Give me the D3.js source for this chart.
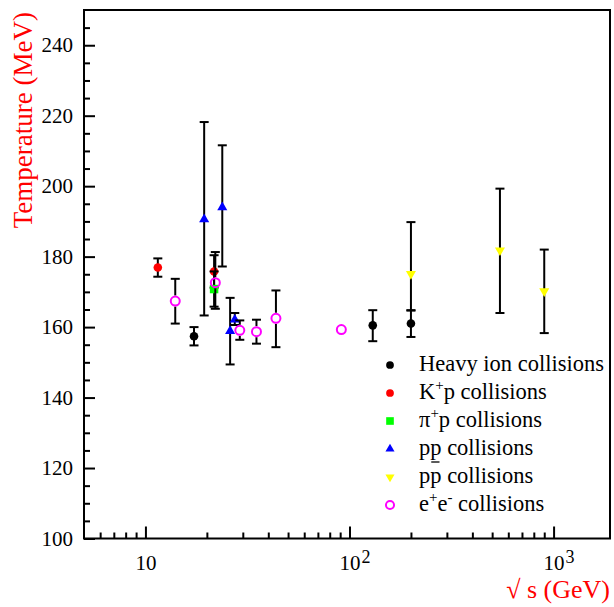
<!DOCTYPE html>
<html>
<head>
<meta charset="utf-8">
<script src="https://cdn.jsdelivr.net/npm/d3@7"></script>
<style>
  html, body { margin: 0; padding: 0; background: #fff; }
  svg { display: block; font-family: "Liberation Serif", "Times New Roman", serif; }
</style>
</head>
<body>
<svg width="614" height="607"></svg>
<script>
// sqrt(s) in GeV, temperature in MeV, errors given as (down, up)
const heavyE = [17.3, 130, 200];
const heavyT = [157.4, 160.5, 161.0];
const heavyLo = [2.6, 4.5, 3.8];
const heavyHi = [2.6, 4.3, 3.8];

const kpE = [11.5, 21.7];
const kpT = [176.9, 175.8];
const kpLo = [2.6, 4.6];
const kpHi = [2.6, 4.6];

const pipE = [21.7];
const pipT = [170.8];
const pipLo = [5.0];
const pipHi = [5.0];

const ppE = [19.4, 23.8, 26.0, 27.4];
const ppT = [190.6, 194.0, 158.9, 162.1];
const ppLo = [27.3, 16.8, 9.5, 1.5];
const ppHi = [27.6, 17.6, 9.4, 1.9];

const ppbarE = [200, 546, 900];
const ppbarT = [175.1, 181.8, 170.2];
const ppbarLo = [10.4, 17.8, 11.9];
const ppbarHi = [14.7, 17.5, 11.8];

const eeE = [14, 22, 29, 35, 43.6, 91.2];
const eeT = [167.4, 172.6, 159.1, 158.7, 162.5, 159.3];
const eeLo = [6.4, 7.4, 2.7, 3.4, 8.2, 0];
const eeHi = [6.3, 8.7, 2.8, 3.4, 7.9, 0];

const yMajor = [100, 120, 140, 160, 180, 200, 220, 240];
const xMajor = [10, 100, 1000];
const xExponent = ['', '2', '3'];

const legendLabels = [
    [['Heavy ion collisions']],
    [['K'], ['+', 'sup'], ['p collisions']],
    [['\u03c0'], ['+', 'sup'], ['p collisions']],
    [['pp collisions']],
    [['pp collisions']],
    [['e'], ['+', 'sup'], ['e'], ['-', 'sup'], [' collisions']]
];

const FONT = '"Liberation Serif", "Times New Roman", serif';

const svg = d3.select('svg');
const margin = { top: 10, right: 4, bottom: 68.5, left: 84 };
const width = +svg.attr('width');
const height = +svg.attr('height');

const x = d3.scaleLog()
    .domain([5, 1890])
    .range([margin.left, width - margin.right]);

const y = d3.scaleLinear()
    .domain([100, 250])
    .range([height - margin.bottom, margin.top]);

const pack = (E, T, lo, hi) => E.map((e, i) => ({ e: e, t: T[i], lo: lo[i], hi: hi[i] }));

const series = [
    { data: pack(heavyE, heavyT, heavyLo, heavyHi), color: 'black', shape: 'circle' },
    { data: pack(kpE, kpT, kpLo, kpHi), color: '#ff0000', shape: 'circle' },
    { data: pack(pipE, pipT, pipLo, pipHi), color: '#00ff00', shape: 'square' },
    { data: pack(ppE, ppT, ppLo, ppHi), color: '#0000ff', shape: 'up' },
    { data: pack(ppbarE, ppbarT, ppbarLo, ppbarHi), color: '#ffff00', shape: 'down' },
    { data: pack(eeE, eeT, eeLo, eeHi), color: '#ff00ff', shape: 'open' }
];

// ---- axes ----
const yMinor = d3.range(105, 250, 5).filter(v => v % 20 !== 0);
const xMinor = [6, 7, 8, 9, 20, 30, 40, 50, 60, 70, 80, 90, 200, 300, 400, 500, 600, 700, 800, 900];

const styleAxis = g => {
    g.attr('font-family', FONT);
    g.select('.domain').remove();
    g.selectAll('.tick line').attr('stroke', 'black').attr('stroke-width', 2);
    g.selectAll('text').attr('fill', 'black').attr('font-family', FONT).attr('font-size', 21);
};

svg.append('g')
    .attr('transform', `translate(${margin.left},0)`)
    .call(d3.axisLeft(y).tickValues(yMinor).tickSize(-6).tickSizeOuter(0).tickFormat(''))
    .call(styleAxis);

svg.append('g')
    .attr('transform', `translate(${margin.left},0)`)
    .call(d3.axisLeft(y).tickValues(yMajor).tickSize(-11).tickSizeOuter(0).tickPadding(11))
    .call(styleAxis);

svg.append('g')
    .attr('transform', `translate(0,${y(100)})`)
    .call(d3.axisBottom(x).tickValues(xMinor).tickSize(-6).tickSizeOuter(0).tickFormat(''))
    .call(styleAxis);

const gx = svg.append('g')
    .attr('transform', `translate(0,${y(100)})`)
    .call(d3.axisBottom(x).tickValues(xMajor).tickSize(-12).tickSizeOuter(0).tickPadding(17).tickFormat(() => ''))
    .call(styleAxis);

// "10" centred on the tick, exponent hanging to the right
gx.selectAll('.tick text').each(function (d) {
    const t = d3.select(this).attr('text-anchor', 'start');
    const base = t.append('tspan').text('10');
    const w = base.node().getComputedTextLength();
    t.attr('x', -w / 2);
    const ex = xExponent[xMajor.indexOf(d)];
    if (ex) {
        t.append('tspan').attr('dx', 1).attr('dy', -7).attr('font-size', 18).text(ex);
    }
});

// frame
svg.append('rect')
    .attr('x', margin.left)
    .attr('y', margin.top)
    .attr('width', width - margin.left - margin.right)
    .attr('height', height - margin.top - margin.bottom)
    .attr('fill', 'none')
    .attr('stroke', 'black')
    .attr('stroke-width', 2);

// axis titles
svg.append('text')
    .attr('transform', `translate(32,12) rotate(-90)`)
    .attr('text-anchor', 'end')
    .attr('fill', '#ff0000')
    .attr('font-family', FONT)
    .attr('font-size', 27)
    .text('Temperature (MeV)');

svg.append('text')
    .attr('x', 610)
    .attr('y', 598)
    .attr('text-anchor', 'end')
    .attr('fill', '#ff0000')
    .attr('font-family', FONT)
    .attr('font-size', 26)
    .text('\u221a s (GeV)');

// ---- markers ----
const drawMarker = (g, shape, color, cx, cy, scale) => {
    const s = scale || 1;
    if (shape === 'circle') {
        g.append('circle').attr('cx', cx).attr('cy', cy).attr('r', 4.3 * s).attr('fill', color);
    } else if (shape === 'open') {
        g.append('circle').attr('cx', cx).attr('cy', cy).attr('r', 4.5 * s)
            .attr('fill', 'none').attr('stroke', color).attr('stroke-width', 2);
    } else if (shape === 'square') {
        g.append('path').attr('transform', `translate(${cx},${cy})`)
            .attr('d', d3.symbol(d3.symbolSquare, 72 * s * s)()).attr('fill', color);
    } else {
        g.append('path')
            .attr('transform', `translate(${cx},${cy})${shape === 'down' ? ' rotate(180)' : ''}`)
            .attr('d', d3.symbol(d3.symbolTriangle, 44 * s * s)()).attr('fill', color);
    }
};

const cap = 4.5;
series.forEach(sr => {
    const g = svg.append('g');
    sr.data.forEach(d => {
        const cx = x(d.e);
        const cy = y(d.t);
        if (d.lo > 0 || d.hi > 0) {
            const y1 = y(d.t + d.hi);
            const y2 = y(d.t - d.lo);
            const gap = sr.shape === 'open' ? 5.5 : 0;
            const eg = g.append('g').attr('stroke', 'black').attr('stroke-width', 2);
            eg.append('line').attr('x1', cx).attr('x2', cx).attr('y1', y1).attr('y2', cy - gap);
            eg.append('line').attr('x1', cx).attr('x2', cx).attr('y1', cy + gap).attr('y2', y2);
            eg.append('line').attr('x1', cx - cap).attr('x2', cx + cap).attr('y1', y1).attr('y2', y1);
            eg.append('line').attr('x1', cx - cap).attr('x2', cx + cap).attr('y1', y2).attr('y2', y2);
        }
        drawMarker(g, sr.shape, sr.color, cx, cy);
    });
});

// ---- legend ----
const legendX = 390;
const legendY = 365;
const rowH = 28;
const legend = svg.append('g');

series.forEach((sr, i) => {
    const cy = legendY + i * rowH;
    drawMarker(legend, sr.shape, sr.color, legendX, cy, 0.9);
    const t = legend.append('text')
        .attr('x', legendX + 29)
        .attr('y', cy + 6)
        .attr('fill', 'black')
        .attr('font-family', FONT)
        .attr('font-size', 22.5);
    let raised = false;
    legendLabels[i].forEach(([txt, kind]) => {
        const ts = t.append('tspan').text(txt);
        if (kind === 'sup') {
            ts.attr('dy', -9).attr('font-size', 15);
            raised = true;
        } else if (raised) {
            ts.attr('dy', 9);
            raised = false;
        }
    });
    if (i === 3) {
        // bar drawn under the second p, as in the original
        const node = t.node();
        const a = node.getStartPositionOfChar(1).x;
        const b = node.getEndPositionOfChar(1).x;
        legend.append('line')
            .attr('x1', a + 1).attr('x2', b - 2)
            .attr('y1', cy + 13).attr('y2', cy + 13)
            .attr('stroke', 'black').attr('stroke-width', 1.3);
    }
});
</script>
</body>
</html>
